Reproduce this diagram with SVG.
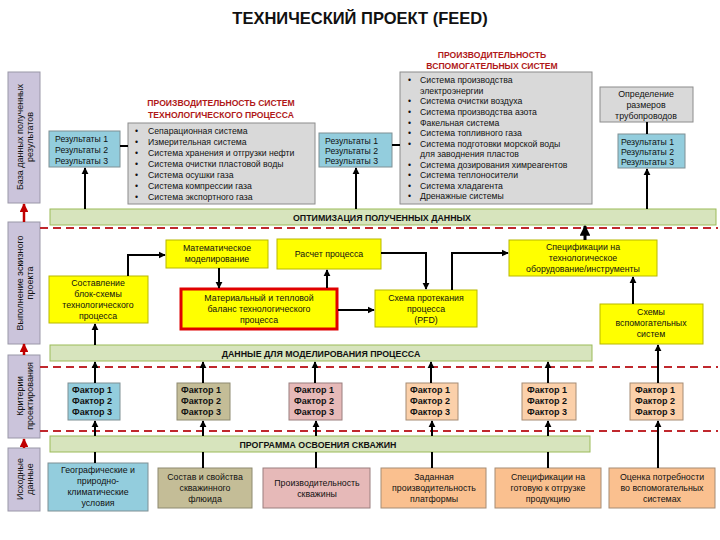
<svg xmlns="http://www.w3.org/2000/svg" width="720" height="540" viewBox="0 0 720 540">
<defs>
<marker id="ah" viewBox="0 0 10 10" refX="9" refY="5" markerWidth="3.6" markerHeight="3.6" orient="auto"><path d="M0,0 L10,5 L0,10 z" fill="#000"/></marker>
<marker id="rah" viewBox="0 0 10 10" refX="9" refY="5" markerWidth="3.5" markerHeight="3.5" orient="auto"><path d="M0,0 L10,5 L0,10 z" fill="#c00000"/></marker>
<style>
text{font-family:"Liberation Sans",Arial,sans-serif;fill:#111}
.t{font-size:8.8px;text-anchor:middle}
.l{font-size:8.7px}
.b{font-size:9px;font-weight:bold}
.h{font-size:8.6px;font-weight:bold;fill:#b01818;text-anchor:middle}
.g{font-size:8.8px;font-weight:bold;text-anchor:middle}
.s{font-size:9px;text-anchor:middle}
.side{fill:#cbc4db;stroke:#9a97a8;stroke-width:1}
.gray{fill:#d9d9d9;stroke:#8c8c8c;stroke-width:1}
.blue{fill:#93cddd;stroke:#7f8f94;stroke-width:1}
.yel{fill:#ffff00;stroke:#b8b800;stroke-width:1}
.tan{fill:#c4bd97;stroke:#8e8a70;stroke-width:1}
.pink{fill:#e6b9b8;stroke:#9a7f7e;stroke-width:1}
.peach{fill:#fbd0aa;stroke:#a68c74;stroke-width:1}
.orng{fill:#fac08f;stroke:#a68c74;stroke-width:1}
.grn{fill:#d7e4bd;stroke:#9bbb59;stroke-width:1}
.c{fill:none;stroke:#000;stroke-width:2;marker-end:url(#ah)}
.cl{fill:none;stroke:#000;stroke-width:2}
.dash{stroke:#c0282d;stroke-width:2.2;stroke-dasharray:8,5}
.ra{stroke:#c00000;stroke-width:2.5;marker-end:url(#rah)}
</style>
</defs>
<rect width="720" height="540" fill="#fff"/>
<text x="360" y="24" style="font-size:16.5px;font-weight:bold;text-anchor:middle">ТЕХНИЧЕСКИЙ ПРОЕКТ (FEED)</text>

<!-- side bars -->
<g id="side1"><rect class="side" x="8" y="72" width="32" height="131"/><text class="s" transform="rotate(-90 24 137)"><tspan x="24" y="135.5">База данных полученных</tspan><tspan x="24" y="145.5">результатов</tspan></text></g>
<g id="side2"><rect class="side" x="8" y="222" width="32" height="122"/><text class="s" transform="rotate(-90 24 283)"><tspan x="24" y="281.5">Выполнение эскизного</tspan><tspan x="24" y="291.5">проекта</tspan></text></g>
<g id="side3"><rect class="side" x="8" y="355" width="32" height="83"/><text class="s" transform="rotate(-90 24 396)"><tspan x="24" y="394.5">Критерии</tspan><tspan x="24" y="404.5">проектирования</tspan></text></g>
<g id="side4"><rect class="side" x="8" y="448" width="32" height="63"/><text class="s" transform="rotate(-90 24 479)"><tspan x="24" y="477.5">Исходные</tspan><tspan x="24" y="487.5">данные</tspan></text></g>

<!-- green bars and dashed lines -->
<g id="bar1"><rect class="grn" x="50" y="209" width="666" height="16"/><text class="g" x="382" y="221">ОПТИМИЗАЦИЯ ПОЛУЧЕННЫХ ДАННЫХ</text></g>
<g id="bar2"><rect class="grn" x="50" y="345" width="542" height="16"/><text class="g" x="321" y="357">ДАННЫЕ ДЛЯ МОДЕЛИРОВАНИЯ ПРОЦЕССА</text></g>
<g id="bar3"><rect class="grn" x="50" y="436" width="540" height="16"/><text class="g" x="318" y="448">ПРОГРАММА ОСВОЕНИЯ СКВАЖИН</text></g>
<g id="dashes"><line class="dash" x1="40" y1="228" x2="718" y2="228"/><line class="dash" x1="40" y1="367" x2="718" y2="367"/><line class="dash" x1="40" y1="431" x2="718" y2="431"/></g>

<!-- top section -->
<g id="proc-sys">
<text class="h" x="221" y="106">ПРОИЗВОДИТЕЛЬНОСТЬ СИСТЕМ</text>
<text class="h" x="221" y="118">ТЕХНОЛОГИЧЕСКОГО ПРОЦЕССА</text>
<rect class="gray" x="128" y="123" width="187" height="81"/>
<text x="135" y="134" class="l">•</text><text x="148" y="134" class="l">Сепарационная система</text>
<text x="135" y="145" class="l">•</text><text x="148" y="145" class="l">Измерительная система</text>
<text x="135" y="156" class="l">•</text><text x="148" y="156" class="l">Система хранения и отгрузки нефти</text>
<text x="135" y="167" class="l">•</text><text x="148" y="167" class="l">Система очистки пластовой воды</text>
<text x="135" y="178" class="l">•</text><text x="148" y="178" class="l">Система осушки газа</text>
<text x="135" y="189" class="l">•</text><text x="148" y="189" class="l">Система компрессии газа</text>
<text x="135" y="200" class="l">•</text><text x="148" y="200" class="l">Система экспортного газа</text>
</g>
<g id="aux-sys">
<text class="h" x="492" y="58">ПРОИЗВОДИТЕЛЬНОСТЬ</text>
<text class="h" x="492" y="69">ВСПОМОГАТЕЛЬНЫХ СИСТЕМ</text>
<rect class="gray" x="400" y="72" width="192" height="132"/>
<text x="408" y="83" class="l">•</text><text x="420" y="83" class="l">Система производства</text>
<text x="420" y="94" class="l">электроэнергии</text>
<text x="408" y="104" class="l">•</text><text x="420" y="104" class="l">Система очистки воздуха</text>
<text x="408" y="115" class="l">•</text><text x="420" y="115" class="l">Система производства азота</text>
<text x="408" y="126" class="l">•</text><text x="420" y="126" class="l">Факельная система</text>
<text x="408" y="136" class="l">•</text><text x="420" y="136" class="l">Система топливного газа</text>
<text x="408" y="147" class="l">•</text><text x="420" y="147" class="l">Система подготовки морской воды</text>
<text x="420" y="157" class="l">для заводнения пластов</text>
<text x="408" y="168" class="l">•</text><text x="420" y="168" class="l">Система дозирования химреагентов</text>
<text x="408" y="178" class="l">•</text><text x="420" y="178" class="l">Система теплоносители</text>
<text x="408" y="189" class="l">•</text><text x="420" y="189" class="l">Система хладагента</text>
<text x="408" y="199" class="l">•</text><text x="420" y="199" class="l">Дренажные системы</text>
</g>
<g id="pipes"><rect class="gray" x="600" y="87" width="93" height="35"/><text class="t" x="646" y="97">Определение</text><text class="t" x="646" y="108">размеров</text><text class="t" x="646" y="119">трубопроводов</text></g>
<g id="res1"><rect class="blue" x="49" y="131" width="71" height="36"/><text class="l" x="55" y="142">Результаты 1</text><text class="l" x="55" y="153">Результаты 2</text><text class="l" x="55" y="164">Результаты 3</text></g>
<g id="res2"><rect class="blue" x="319" y="133" width="73" height="34"/><text class="l" x="325" y="144">Результаты 1</text><text class="l" x="325" y="154">Результаты 2</text><text class="l" x="325" y="164">Результаты 3</text></g>
<g id="res3"><rect class="blue" x="618" y="134" width="67" height="34"/><text class="l" x="621" y="145">Результаты 1</text><text class="l" x="621" y="155">Результаты 2</text><text class="l" x="621" y="165">Результаты 3</text></g>

<!-- middle section -->
<g id="math"><rect class="yel" x="166" y="240" width="102" height="28"/><text class="t" x="217" y="251">Математическое</text><text class="t" x="217" y="262">моделирование</text></g>
<g id="calc"><rect class="yel" x="277" y="239" width="104" height="30"/><text class="t" x="329" y="257">Расчет процесса</text></g>
<g id="spec"><rect class="yel" x="509" y="240" width="148" height="36"/><text class="t" x="583" y="250">Спецификации на</text><text class="t" x="583" y="261">технологическое</text><text class="t" x="583" y="272">оборудование/инструменты</text></g>
<g id="flow"><rect class="yel" x="49" y="276" width="99" height="47"/><text class="t" x="98" y="286">Составление</text><text class="t" x="98" y="297">блок-схемы</text><text class="t" x="98" y="308">технологического</text><text class="t" x="98" y="319">процесса</text></g>
<g id="balance"><rect x="181" y="289" width="156" height="40" fill="#ffff00" stroke="#e00000" stroke-width="3"/><text class="t" x="259" y="301">Материальный и тепловой</text><text class="t" x="259" y="312">баланс технологического</text><text class="t" x="259" y="323">процесса</text></g>
<g id="pfd"><rect class="yel" x="375" y="290" width="102" height="37"/><text class="t" x="426" y="301">Схема протекания</text><text class="t" x="426" y="312">процесса</text><text class="t" x="426" y="323">(PFD)</text></g>
<g id="auxschem"><rect class="yel" x="600" y="304" width="103" height="40"/><text class="t" x="651" y="315">Схемы</text><text class="t" x="651" y="326">вспомогательных</text><text class="t" x="651" y="337">систем</text></g>

<!-- factors -->
<g id="f1"><rect class="blue" x="68" y="383" width="52" height="37"/><text class="b" x="72" y="393">Фактор 1</text><text class="b" x="72" y="404">Фактор 2</text><text class="b" x="72" y="415">Фактор 3</text></g>
<g id="f2"><rect class="tan" x="177" y="383" width="53" height="37"/><text class="b" x="181" y="393">Фактор 1</text><text class="b" x="181" y="404">Фактор 2</text><text class="b" x="181" y="415">Фактор 3</text></g>
<g id="f3"><rect class="pink" x="289" y="383" width="53" height="37"/><text class="b" x="294" y="393">Фактор 1</text><text class="b" x="294" y="404">Фактор 2</text><text class="b" x="294" y="415">Фактор 3</text></g>
<g id="f4"><rect class="peach" x="406" y="383" width="52" height="37"/><text class="b" x="410" y="393">Фактор 1</text><text class="b" x="410" y="404">Фактор 2</text><text class="b" x="410" y="415">Фактор 3</text></g>
<g id="f5"><rect class="peach" x="522" y="383" width="54" height="37"/><text class="b" x="527" y="393">Фактор 1</text><text class="b" x="527" y="404">Фактор 2</text><text class="b" x="527" y="415">Фактор 3</text></g>
<g id="f6"><rect class="peach" x="630" y="383" width="53" height="37"/><text class="b" x="635" y="393">Фактор 1</text><text class="b" x="635" y="404">Фактор 2</text><text class="b" x="635" y="415">Фактор 3</text></g>

<!-- bottom inputs -->
<g id="geo"><rect class="blue" x="48" y="463" width="100" height="48"/><text class="t" x="98" y="473">Географические и</text><text class="t" x="98" y="484">природно-</text><text class="t" x="98" y="495">климатические</text><text class="t" x="98" y="506">условия</text></g>
<g id="fluid"><rect class="tan" x="158" y="468" width="94" height="40"/><text class="t" x="205" y="480">Состав и свойства</text><text class="t" x="205" y="491">скважинного</text><text class="t" x="205" y="502">флюида</text></g>
<g id="wellprod"><rect class="pink" x="263" y="468" width="107" height="40"/><text class="t" x="317" y="486">Производительность</text><text class="t" x="317" y="497">скважины</text></g>
<g id="platprod"><rect class="orng" x="381" y="468" width="105" height="40"/><text class="t" x="434" y="480">Заданная</text><text class="t" x="434" y="491">производительность</text><text class="t" x="434" y="502">платформы</text></g>
<g id="prodspec"><rect class="orng" x="495" y="468" width="106" height="40"/><text class="t" x="548" y="480">Спецификации на</text><text class="t" x="548" y="491">готовую к отгрузке</text><text class="t" x="548" y="502">продукцию</text></g>
<g id="auxneed"><rect class="orng" x="609" y="468" width="106" height="40"/><text class="t" x="662" y="480">Оценка потребности</text><text class="t" x="662" y="491">во вспомогательных</text><text class="t" x="662" y="502">системах</text></g>

<!-- connectors -->
<g id="connectors">
<line class="ra" x1="24" y1="222" x2="24" y2="204"/>
<line class="ra" x1="24" y1="355" x2="24" y2="344"/>
<line class="ra" x1="24" y1="448" x2="24" y2="439"/>
<line class="cl" x1="120" y1="146" x2="128" y2="146"/>
<line class="cl" x1="392" y1="145" x2="400" y2="145"/>
<line class="cl" x1="647" y1="122" x2="647" y2="134"/>
<line class="c" x1="85" y1="209" x2="85" y2="168"/>
<line class="c" x1="356" y1="209" x2="356" y2="168"/>
<line class="c" x1="647" y1="209" x2="647" y2="169"/>
<line class="c" x1="585" y1="240" x2="585" y2="226" style="stroke-width:3"/>
<polyline class="c" points="128,276 128,255 165,255"/>
<line class="c" x1="219" y1="268" x2="219" y2="288"/>
<line class="c" x1="327" y1="288" x2="327" y2="270"/>
<polyline class="c" points="381,253 426,253 426,289"/>
<polyline class="c" points="452,290 452,253 508,253"/>
<line class="c" x1="338" y1="310" x2="374" y2="310"/>
<line class="c" x1="633" y1="304" x2="633" y2="277"/>
<line class="c" x1="95" y1="345" x2="95" y2="324"/>
<line class="c" x1="95" y1="383" x2="95" y2="362"/>
<line class="c" x1="203" y1="383" x2="203" y2="362"/>
<line class="c" x1="315" y1="383" x2="315" y2="362"/>
<line class="c" x1="431" y1="383" x2="431" y2="362"/>
<line class="c" x1="548" y1="383" x2="548" y2="362"/>
<line class="c" x1="658" y1="383" x2="658" y2="345"/>
<line class="c" x1="95" y1="436" x2="95" y2="421"/>
<line class="c" x1="203" y1="436" x2="203" y2="421"/>
<line class="c" x1="316" y1="436" x2="316" y2="421"/>
<line class="c" x1="432" y1="436" x2="432" y2="421"/>
<line class="c" x1="548" y1="436" x2="548" y2="421"/>
<line class="c" x1="658" y1="468" x2="658" y2="421"/>
<line class="cl" x1="95" y1="452" x2="95" y2="463"/>
<line class="cl" x1="203" y1="452" x2="203" y2="468"/>
<line class="cl" x1="316" y1="452" x2="316" y2="468"/>
<line class="cl" x1="432" y1="452" x2="432" y2="468"/>
<line class="cl" x1="548" y1="452" x2="548" y2="468"/>
</g>
</svg>
